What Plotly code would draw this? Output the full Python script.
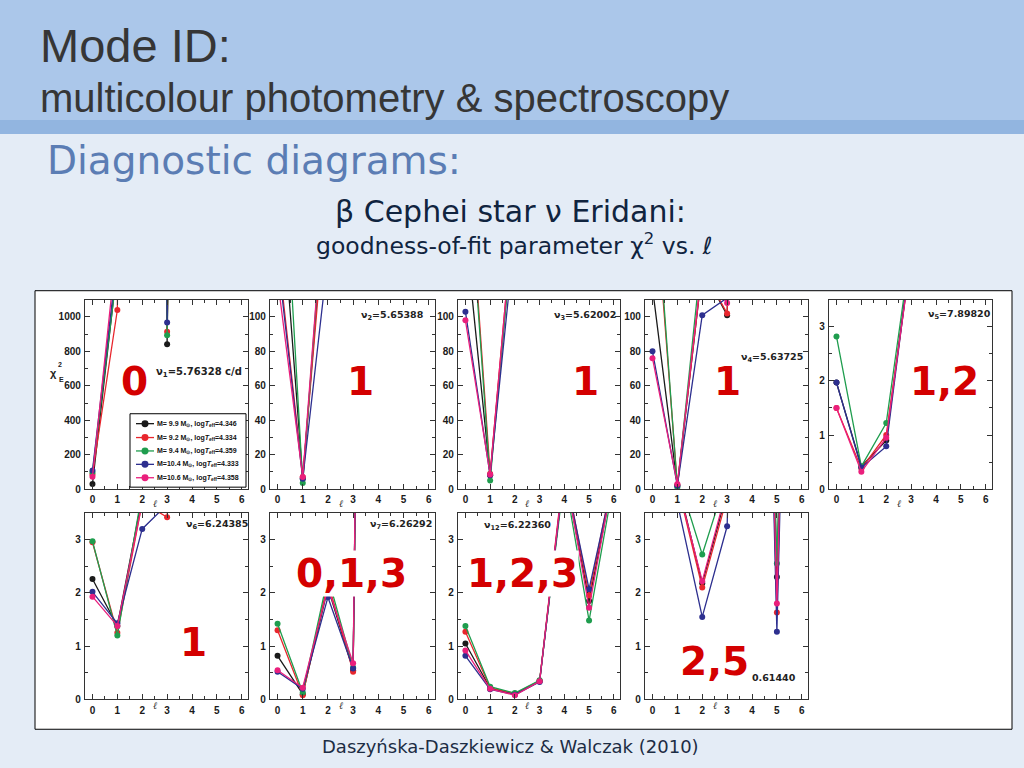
import plotly.graph_objects as go

# ---------------- data ----------------
ell = [0, 1, 2, 3, 4, 5, 6]

model_labels = [
    "M= 9.9 M<sub>⊙</sub>, log<i>T</i><sub>eff</sub>=4.346",
    "M= 9.2 M<sub>⊙</sub>, log<i>T</i><sub>eff</sub>=4.334",
    "M= 9.4 M<sub>⊙</sub>, log<i>T</i><sub>eff</sub>=4.359",
    "M=10.4 M<sub>⊙</sub>, log<i>T</i><sub>eff</sub>=4.333",
    "M=10.6 M<sub>⊙</sub>, log<i>T</i><sub>eff</sub>=4.358",
]
model_colors = ["#1a1a1a", "#e8262d", "#1f9d4e", "#2d2f8f", "#ea1f7c"]

# chi^2 values per panel, rows = models (black, red, green, blue, magenta), cols = ell 0..6
chi_nu1 = [
    [30, 1300, 20000, 841, 21000, 30000, 32000],
    [85, 1040, 19000, 913, 20000, 29000, 31000],
    [97, 1280, 19500, 894, 20500, 29500, 31500],
    [108, 1350, 20500, 967, 21500, 30500, 32500],
    [72, 1450, 21000, 1300, 22000, 31000, 33000],
]
chi_nu2 = [
    [200, 6.0, 190, 900, 1500, 2000, 2500],
    [140, 7.0, 180, 850, 1450, 1950, 2450],
    [260, 3.5, 200, 950, 1550, 2050, 2550],
    [135, 6.0, 135, 800, 1400, 1900, 2400],
    [122, 7.0, 200, 880, 1480, 1980, 2480],
]
chi_nu3 = [
    [150, 8.0, 165, 700, 1200, 1500, 2000],
    [215, 9.0, 170, 720, 1220, 1520, 2020],
    [210, 5.0, 165, 740, 1240, 1540, 2040],
    [103, 8.0, 148, 690, 1190, 1490, 1990],
    [98, 8.5, 170, 710, 1210, 1510, 2010],
]
chi_nu4 = [
    [117, 2.0, 128, 101, 600, 900, 1200],
    [190, 2.5, 128, 102, 620, 920, 1220],
    [199, 1.0, 140, 150, 640, 940, 1240],
    [80, 2.0, 101, 111, 580, 880, 1180],
    [76, 3.0, 130, 108, 610, 910, 1210],
]
chi_nu5 = [
    [1.97, 0.42, 0.90, 4.4, 12, 20, 25],
    [1.50, 0.38, 1.00, 4.3, 12, 20, 25],
    [2.82, 0.42, 1.22, 4.5, 12, 20, 25],
    [1.97, 0.40, 0.79, 4.4, 12, 20, 25],
    [1.50, 0.32, 0.95, 4.3, 12, 20, 25],
]
chi_nu6 = [
    [2.26, 1.38, 3.8, 4.0, 15, 20, 25],
    [2.95, 1.25, 3.7, 3.42, 15, 20, 25],
    [2.97, 1.20, 3.9, 4.2, 15, 20, 25],
    [2.02, 1.43, 3.2, 3.66, 15, 20, 25],
    [1.93, 1.38, 3.7, 3.6, 15, 20, 25],
]
chi_nu7 = [
    [0.82, 0.10, 2.10, 0.55, 40, 60, 80],
    [1.30, 0.08, 2.20, 0.52, 40, 60, 80],
    [1.42, 0.13, 2.30, 0.60, 40, 60, 80],
    [0.52, 0.20, 1.92, 0.58, 40, 60, 80],
    [0.55, 0.22, 2.10, 0.68, 40, 60, 80],
]
chi_nu12 = [
    [1.05, 0.21, 0.10, 0.34, 4.30, 1.85, 4.20],
    [1.27, 0.22, 0.11, 0.35, 4.40, 1.95, 4.30],
    [1.38, 0.24, 0.12, 0.36, 4.20, 1.48, 4.10],
    [0.82, 0.19, 0.09, 0.33, 4.30, 2.07, 4.20],
    [0.92, 0.20, 0.08, 0.34, 4.35, 1.72, 4.25],
]
chi_nuB = [
    [8, 4.10, 2.18, 3.90, 20, 2.30, 20],
    [8, 4.04, 2.10, 3.80, 20, 1.63, 20],
    [8, 4.22, 2.72, 4.19, 20, 2.55, 20],
    [8, 3.69, 1.55, 3.25, 20, 1.27, 20],
    [8, 4.05, 2.22, 3.97, 20, 1.80, 20],
]

panel_data = [chi_nu1, chi_nu2, chi_nu3, chi_nu4, chi_nu5,
              chi_nu6, chi_nu7, chi_nu12, chi_nuB]
freq_labels = ["ν<sub>1</sub>=5.76328 c/d", "ν<sub>2</sub>=5.65388", "ν<sub>3</sub>=5.62002",
               "ν<sub>4</sub>=5.63725", "ν<sub>5</sub>=7.89820", "ν<sub>6</sub>=6.24385",
               "ν<sub>7</sub>=6.26292", "ν<sub>12</sub>=6.22360", "0.61440"]
mode_labels = ["0", "1", "1", "1", "1,2", "1", "0,1,3", "1,2,3", "2,5"]
y_ranges = [[0, 1100], [0, 110], [0, 110], [0, 110], [0, 3.5],
            [0, 3.5], [0, 3.5], [0, 3.5], [0, 3.5]]
y_dticks = [200, 20, 20, 20, 1, 1, 1, 1, 1]
x_ticks = [0, 1, 2, 3, 4, 5, 6]

# ---------------- layout geometry (pixels of a 1024x768 page) ----------------
W, H = 1024, 768
def px(x):
    return x / W
def py(y):
    return 1 - y / H

col_px = [(85, 248), (270, 435), (458, 620), (645, 808), (829, 992)]
row_px = [(302, 493), (517, 705)]
panel_cells = [(0, 0), (0, 1), (0, 2), (0, 3), (0, 4),
               (1, 0), (1, 1), (1, 2), (1, 3)]

freq_pos = [(199, 375, "center"), (392, 318, "center"), (585, 318, "center"),
            (772, 360, "center"), (959, 317, "center"), (217, 529, "center"),
            (401, 529, "center"), (517, 530, "center"), (774, 683, "center")]
mode_pos = [(134, 384), (360, 385), (585, 385), (727, 385), (944, 385),
            (193, 648), (351, 578), (522, 578), (714, 667)]

fig = go.Figure()
layout = dict(
    width=W, height=H,
    margin=dict(l=0, r=0, t=0, b=0),
    paper_bgcolor="#e4ecf6",
    plot_bgcolor="white",
    showlegend=False,
)

axis_font = dict(family="Liberation Sans, Arial", size=10, color="#1a1a1a", weight="bold")
annotations = []
shapes = [
    dict(type="rect", xref="paper", yref="paper", x0=0, x1=1, y0=py(124), y1=1,
         fillcolor="#abc7ea", line=dict(width=0), layer="below"),
    dict(type="rect", xref="paper", yref="paper", x0=0, x1=1, y0=py(135), y1=py(121),
         fillcolor="#92b5e0", line=dict(width=0), layer="below"),
    dict(type="rect", xref="paper", yref="paper", x0=px(35), x1=px(1012),
         y0=py(735), y1=py(293), fillcolor="white",
         line=dict(color="black", width=1), layer="below"),
]

for i, data in enumerate(panel_data):
    r, c = panel_cells[i]
    n = i + 1
    xa = "x" if n == 1 else f"x{n}"
    ya = "y" if n == 1 else f"y{n}"
    for m in range(5):
        fig.add_trace(go.Scatter(
            x=ell, y=data[m], mode="lines+markers",
            xaxis=xa, yaxis=ya,
            name=model_labels[m],
            line=dict(color=model_colors[m], width=1.3),
            marker=dict(color=model_colors[m], size=6),
            cliponaxis=True,
        ))
    x0, x1 = col_px[c]
    y0, y1 = row_px[r]
    common = dict(showline=True, linecolor="#333", linewidth=1.3, mirror="ticks",
                  ticks="inside", ticklen=5, tickwidth=1.1, tickcolor="#333",
                  showgrid=False, zeroline=False, tickfont=axis_font, fixedrange=True)
    layout["xaxis" if n == 1 else f"xaxis{n}"] = dict(
        domain=[px(x0), px(x1)], anchor=ya, range=[-0.3, 6.25],
        tickvals=x_ticks, ticklabelstandoff=1,
        minor=dict(dtick=0.5, tick0=0, ticks="inside", ticklen=3, tickcolor="#333"),
        **common)
    layout["yaxis" if n == 1 else f"yaxis{n}"] = dict(
        domain=[py(y1), py(y0)], anchor=xa, range=y_ranges[i],
        dtick=y_dticks[i], tick0=0, ticklabelstandoff=1,
        minor=dict(dtick=y_dticks[i] / 2, tick0=0, ticks="inside", ticklen=3,
                   tickcolor="#333"),
        **common)
    # l axis label
    annotations.append(dict(x=2.5, xref=xa, y=py(y1 + 14), yref="paper",
                            text="<i>ℓ</i>", showarrow=False,
                            font=dict(family="DejaVu Serif", size=10, color="#333")))
    # frequency label
    fx, fy, anc = freq_pos[i]
    annotations.append(dict(x=px(fx), y=py(fy), xref="paper", yref="paper",
                            xanchor=anc, yanchor="middle", text=freq_labels[i],
                            showarrow=False,
                            font=dict(family="DejaVu Sans", size=9.5 if i else 10,
                                      color="#222", weight="bold")))
    # red mode label (white box)
    mx, my = mode_pos[i]
    annotations.append(dict(x=px(mx), y=py(my), xref="paper", yref="paper",
                            xanchor="center", yanchor="middle", text=mode_labels[i],
                            showarrow=False, bgcolor="white", borderpad=0,
                            font=dict(family="DejaVu Sans", size=39, color="#d40000",
                                      weight="bold")))

# hand-drawn legend box inside the first panel
leg_rows = [427, 441, 454.5, 468, 481.5]
shapes.append(dict(type="rect", xref="paper", yref="paper", x0=px(130), x1=px(246),
                   y0=py(491), y1=py(417), fillcolor="white",
                   line=dict(color="black", width=1), layer="above"))
for m in range(5):
    yy = leg_rows[m]
    shapes.append(dict(type="line", xref="paper", yref="paper", x0=px(136), x1=px(154),
                       y0=py(yy), y1=py(yy), line=dict(color=model_colors[m], width=1.3),
                       layer="above"))
    shapes.append(dict(type="circle", xref="paper", yref="paper",
                       x0=px(141.5), x1=px(148.5), y0=py(yy + 3.5), y1=py(yy - 3.5),
                       fillcolor=model_colors[m], line=dict(width=0), layer="above"))
    annotations.append(dict(x=px(155), y=py(yy), xref="paper", yref="paper",
                            xanchor="left", yanchor="middle", text=model_labels[m],
                            showarrow=False,
                            font=dict(family="Liberation Sans", size=7, color="#111",
                                      weight="bold")))

# y axis title of the first panel
annotations += [
    dict(x=px(48), y=py(376), xref="paper", yref="paper", text="χ", showarrow=False,
         font=dict(family="Liberation Sans", size=11, color="#222", weight="bold")),
    dict(x=px(56), y=py(367), xref="paper", yref="paper", text="2", showarrow=False,
         font=dict(family="Liberation Sans", size=7, color="#222", weight="bold")),
    dict(x=px(57), y=py(382), xref="paper", yref="paper", text="E", showarrow=False,
         font=dict(family="Liberation Sans", size=7, color="#222", weight="bold")),
]

# slide texts
annotations += [
    dict(x=px(38), y=py(46), xref="paper", yref="paper", xanchor="left", yanchor="middle",
         text="Mode ID:", showarrow=False,
         font=dict(family="Liberation Sans", size=47, color="#363636")),
    dict(x=px(38), y=py(99), xref="paper", yref="paper", xanchor="left", yanchor="middle",
         text="multicolour photometry &amp; spectroscopy", showarrow=False,
         font=dict(family="Liberation Sans", size=40, color="#363636")),
    dict(x=px(45), y=py(162), xref="paper", yref="paper", xanchor="left", yanchor="middle",
         text="Diagnostic diagrams:", showarrow=False,
         font=dict(family="DejaVu Sans", size=39, color="#5b7db4")),
    dict(x=px(510), y=py(213), xref="paper", yref="paper", xanchor="center", yanchor="middle",
         text="β Cephei star ν Eridani:", showarrow=False,
         font=dict(family="DejaVu Sans", size=30, color="#10243f")),
    dict(x=px(514), y=py(246), xref="paper", yref="paper", xanchor="center", yanchor="middle",
         text="goodness-of-fit parameter χ<sup>2</sup> vs. ℓ", showarrow=False,
         font=dict(family="DejaVu Sans", size=23.5, color="#10243f")),
    dict(x=px(510), y=py(752), xref="paper", yref="paper", xanchor="center", yanchor="middle",
         text="Daszyńska-Daszkiewicz &amp; Walczak (2010)", showarrow=False,
         font=dict(family="DejaVu Sans", size=18, color="#1c2d44")),
]
layout["annotations"] = annotations
layout["shapes"] = shapes

fig.update_layout(**layout)
fig.write_html("out.html", config={"displayModeBar": False},
               post_script="document.body.style.margin='0';")
